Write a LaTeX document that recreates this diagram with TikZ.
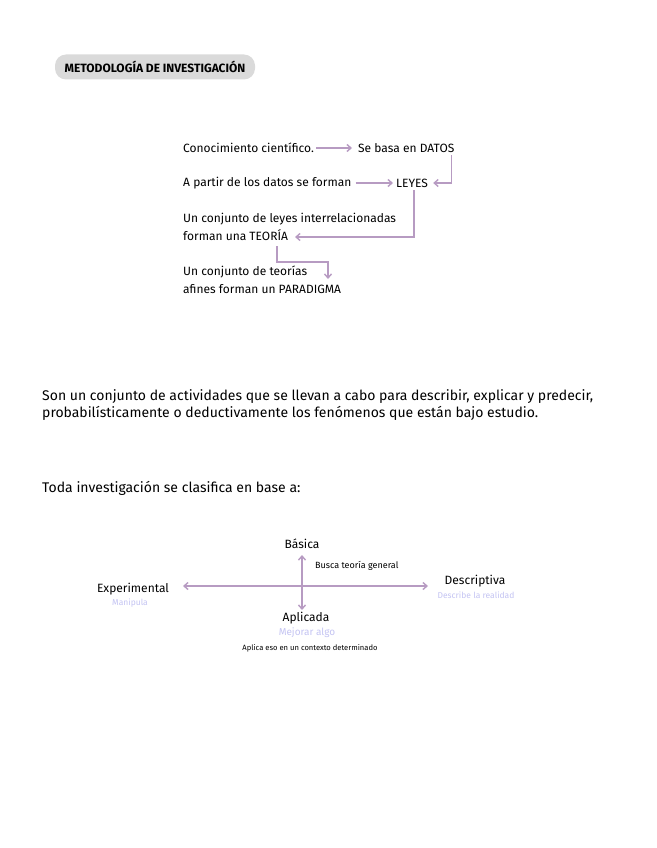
\documentclass[tikz,border=0pt]{standalone}
\usepackage{fontspec}
\setmainfont{Fira Sans}
\usetikzlibrary{arrows.meta}
\definecolor{arrowpurple}{HTML}{B79BC2}
\definecolor{pillgray}{HTML}{DADADA}
\definecolor{softblue}{HTML}{C3C3F2}
\tikzset{
  flowtext/.style={anchor=west, inner sep=0pt, font=\fontsize{12}{18}\selectfont},
  bodytext/.style={anchor=west, inner sep=0pt, font=\fontsize{14}{17}\selectfont},
  axislabel/.style={inner sep=0pt, font=\fontsize{12}{14}\selectfont},
  sublabel/.style={inner sep=0pt, font=\fontsize{8.5}{10}\selectfont, text=softblue},
  smalllabel/.style={inner sep=0pt, font=\fontsize{9}{11}\selectfont},
  conn/.style={draw=arrowpurple, line width=1.4pt, -{Straight Barb[length=4pt,width=7pt]}},
  conn2/.style={draw=arrowpurple, line width=1.4pt, {Straight Barb[length=4pt,width=7pt]}-{Straight Barb[length=4pt,width=7pt]}},
}
\begin{document}
\begin{tikzpicture}[x=1pt,y=-1pt]
\useasboundingbox (0,0) rectangle (656,848);
% title
\node[fill=pillgray, rounded corners=11pt, minimum width=200pt, minimum height=25pt, inner sep=0pt, font=\fontsize{12}{14}\selectfont\bfseries] (title) at (155,67) {METODOLOGÍA DE INVESTIGACIÓN};
% flow
\node[flowtext] (conoc) at (183,148) {Conocimiento científico.};
\node[flowtext] (datos) at (358,148) {Se basa en DATOS};
\node[flowtext] (apartir) at (183,183) {A partir de los datos se forman};
\node[flowtext] (leyes) at (396,183) {LEYES};
\node[flowtext, align=left] (teoria) at (183,227) {Un conjunto de leyes interrelacionadas\\forman una TEORÍA};
\node[flowtext, align=left] (paradigma) at (183,280) {Un conjunto de teorías\\afines forman un PARADIGMA};
\coordinate (teoriaend) at (295,237);
\draw[conn] (conoc.east) ++(2,0) -- ([xshift=-6pt]datos.west);
\draw[conn] (datos.east) ++(-3,7) |- ([xshift=5pt]leyes.east);
\draw[conn] (apartir.east) ++(4,0) -- ([xshift=-3pt]leyes.west);
\draw[conn] ([xshift=-14pt]leyes.south east) ++(0,3) |- (teoriaend);
\draw[conn] (277,246) -- (277,262) -- (328,262) -- (328,279);
% paragraph
\node[bodytext, align=left] (parr) at (42,405) {Son un conjunto de actividades que se llevan a cabo para describir, explicar y predecir,\\probabilísticamente o deductivamente los fenómenos que están bajo estudio.};
\node[bodytext] (toda) at (42,488) {Toda investigación se clasifica en base a:};
% cross
\node[axislabel] (basica) at (302,544) {Básica};
\node[axislabel] (aplicada) at (306,618) {Aplicada};
\node[axislabel] (descr) at (475,581) {Descriptiva};
\node[axislabel] (exper) at (133,589) {Experimental};
\node[smalllabel, anchor=west] (busca) at (315,566) {Busca teoría general};
\node[sublabel] (describe) at (476,595) {Describe la realidad};
\node[sublabel] (manip) at (130,603) {Manipula};
\node[sublabel, font=\fontsize{10}{12}\selectfont] (mejorar) at (307,633) {Mejorar algo};
\node[smalllabel, font=\fontsize{7.6}{9}\selectfont] (aplicaeso) at (310,648) {Aplica eso en un contexto determinado};
\coordinate (hl) at (183,586);
\coordinate (hr) at (428,586);
\coordinate (vt) at (302,555);
\coordinate (vb) at (302,610);
\draw[conn2] (hl) -- (hr);
\draw[conn2] (vt) -- (vb);
\end{tikzpicture}
\end{document}
